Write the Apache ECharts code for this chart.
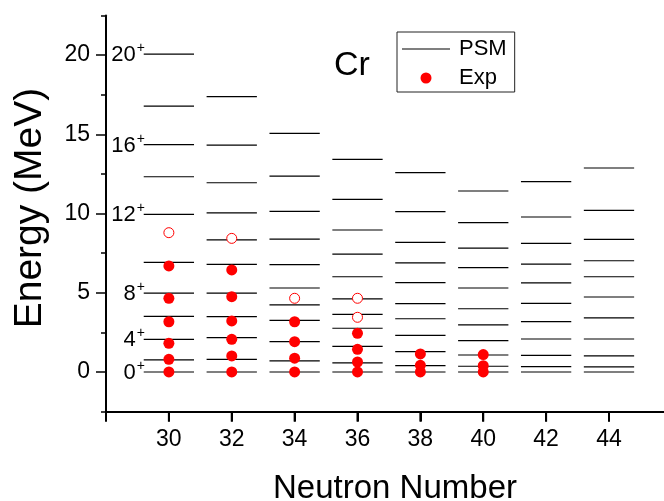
<!DOCTYPE html>
<html>
<head>
<meta charset="utf-8">
<script src="https://cdn.jsdelivr.net/npm/echarts@6/dist/echarts.min.js"></script>
<style>html,body{margin:0;padding:0;background:#fff}#c{width:664px;height:501px}</style>
</head>
<body>
<div id="c"></div>
<script>
// Neutron numbers of the columns
const neutrons = [30, 32, 34, 36, 38, 40, 42, 44];
// PSM level energies (MeV), yrast 0+ ... 20+
const psm30 = [0, 0.76, 2.06, 3.51, 4.97, 6.92, 9.95, 12.32, 14.34, 16.78, 20.06];
const psm32 = [0, 0.80, 2.17, 3.49, 4.97, 6.79, 8.33, 10.04, 11.94, 14.32, 17.37];
const psm34 = [0, 0.70, 1.92, 3.26, 4.23, 5.30, 6.77, 8.38, 10.13, 12.36, 15.06];
const psm36 = [0, 0.57, 1.62, 2.76, 3.64, 4.61, 6.01, 7.44, 8.96, 10.89, 13.42];
const psm38 = [0, 0.40, 1.28, 2.31, 3.36, 4.31, 5.64, 6.88, 8.18, 10.12, 12.58];
const psm40 = [0, 0.36, 1.07, 1.98, 2.97, 3.99, 5.30, 6.58, 7.82, 9.42, 11.42];
const psm42 = [0, 0.34, 1.05, 2.08, 3.18, 4.33, 5.62, 6.81, 8.12, 9.78, 12.01];
const psm44 = [0, 0.32, 1.01, 2.08, 3.41, 4.73, 6.01, 7.02, 8.37, 10.20, 12.87];
// Experimental levels (filled) and tentative (open)
const expN = [30, 32, 34, 36, 38, 40];
const exp30 = [0, 0.80, 1.81, 3.17, 4.65, 6.69];
const exp32 = [0, 1.01, 2.06, 3.22, 4.75, 6.44];
const exp34 = [0, 0.87, 1.91, 3.17];
const exp36 = [0, 0.63, 1.43, 2.44];
const exp38 = [0, 0.42, 1.14];
const exp40 = [0, 0.40, 1.10];
const open30 = [8.79];
const open32 = [8.43];
const open34 = [4.65];
const open36 = [3.45, 4.65];
// spin labels next to the N=30 column
const spinLabels = ['0', '4', '8', '12', '16', '20'];
const spinLevelIndex = [0, 2, 4, 6, 8, 10];
// axis ticks
const yMajorTicks = [0, 5, 10, 15, 20];
const yMinorTicks = [-2.5, 2.5, 7.5, 12.5, 17.5, 22.5];
const xTickLabels = [30, 32, 34, 36, 38, 40, 42, 44];
const xTicks = [28, 30, 32, 34, 36, 38, 40, 42, 44];

const Y_MIN = -2.5, Y_MAX = 22.5, X_MIN = 28, X_MAX = 45.75;

const psmCols = [psm30, psm32, psm34, psm36, psm38, psm40, psm42, psm44];
const expCols = [exp30, exp32, exp34, exp36, exp38, exp40];
const openCols = [open30, open32, open34, open36, [], []];

const psmData = [];
neutrons.forEach((n, i) => psmCols[i].forEach(e => psmData.push([n, e])));
const expData = [];
expN.forEach((n, i) => expCols[i].forEach(e => expData.push([n, e])));
const openData = [];
expN.forEach((n, i) => openCols[i].forEach(e => openData.push([n, e])));
const spinData = spinLabels.map((s, i) => [neutrons[0], psm30[spinLevelIndex[i]], s]);
const xTickData = xTicks.map(v => [v, Y_MIN]);

const FONT = 'Liberation Sans, Arial, sans-serif';
const HALF = 0.8;

const chart = echarts.init(document.getElementById('c'), null, { renderer: 'canvas' });
chart.setOption({
  animation: false,
  backgroundColor: '#fff',
  grid: { left: 106, right: 0, top: 15.4, bottom: 89.4 },
  xAxis: [{
    type: 'value', min: X_MIN, max: X_MAX, interval: 2, position: 'bottom',
    axisLine: { show: true, onZero: false, lineStyle: { color: '#000', width: 2 } },
    axisTick: { show: true, length: 10, customValues: xTicks, lineStyle: { color: '#000', width: 2 } },
    axisLabel: { customValues: xTickLabels, margin: 17, fontFamily: FONT, fontSize: 23, color: '#000' },
    splitLine: { show: false }
  }],
  yAxis: [{
    type: 'value', min: Y_MIN, max: Y_MAX, interval: 2.5,
    axisLine: { show: true, onZero: false, lineStyle: { color: '#000', width: 2 } },
    axisTick: { show: true, length: 10, customValues: yMajorTicks, lineStyle: { color: '#000', width: 1.5 } },
    axisLabel: { customValues: yMajorTicks, margin: 16, fontFamily: FONT, fontSize: 23, color: '#000' },
    splitLine: { show: false }
  }, {
    type: 'value', min: Y_MIN, max: Y_MAX, interval: 2.5, position: 'left',
    axisLine: { show: false, onZero: false },
    axisTick: { show: true, length: 5, customValues: yMinorTicks, lineStyle: { color: '#000', width: 1.5 } },
    axisLabel: { show: false },
    splitLine: { show: false }
  }],
  legend: {
    left: 397, top: 32, orient: 'vertical',
    itemWidth: 48, itemHeight: 11, itemGap: 7,
    padding: [6, 8, 3, 5],
    borderColor: '#222', borderWidth: 1,
    textStyle: { fontFamily: FONT, fontSize: 22, color: '#000', padding: [0, 0, 0, 4] },
    data: [
      { name: 'PSM', icon: 'path://M0,0H48V1H0Z' },
      { name: 'Exp', icon: 'circle' }
    ]
  },
  graphic: [{
    type: 'text', x: 352, y: 66,
    style: { text: 'Cr', fontFamily: FONT, fontSize: 34, fill: '#000', align: 'center', verticalAlign: 'middle' }
  }, {
    type: 'text', x: 395, y: 489,
    style: { text: 'Neutron Number', fontFamily: FONT, fontSize: 33, fill: '#000', align: 'center', verticalAlign: 'middle' }
  }, {
    type: 'text', x: 30, y: 208, rotation: Math.PI / 2,
    style: { text: 'Energy (MeV)', fontFamily: FONT, fontSize: 39, fill: '#000', align: 'center', verticalAlign: 'middle' }
  }],
  series: [
    {
      name: 'PSM', type: 'custom', data: psmData,
      itemStyle: { color: '#000' },
      renderItem: function (params, api) {
        const n = api.value(0), e = api.value(1);
        const p1 = api.coord([n - HALF, e]);
        const p2 = api.coord([n + HALF, e]);
        return { type: 'line', shape: { x1: p1[0], y1: p1[1], x2: p2[0], y2: p2[1] },
          style: { stroke: '#000', lineWidth: 1.2 } };
      }
    },
    {
      name: 'Exp', type: 'scatter', data: expData, symbol: 'circle', symbolSize: 11,
      itemStyle: { color: '#ff0000', opacity: 1 }, z: 5
    },
    {
      name: 'ExpOpen', type: 'scatter', data: openData, symbol: 'circle', symbolSize: 10,
      itemStyle: { color: '#fff', borderColor: '#ff0000', borderWidth: 1, opacity: 1 }, z: 5
    },
    {
      name: 'spin', type: 'custom', data: spinData, silent: true,
      renderItem: function (params, api) {
        const p = api.coord([api.value(0) - HALF, api.value(1)]);
        const txt = String(spinLabels[params.dataIndex]);
        return {
          type: 'group',
          children: [
            { type: 'text', x: p[0] - 8, y: p[1] + 1,
              style: { text: txt, fontFamily: FONT, fontSize: 22, fill: '#000', align: 'right', verticalAlign: 'middle' } },
            { type: 'text', x: p[0] - 7, y: p[1] - 6,
              style: { text: '+', fontFamily: FONT, fontSize: 14, fill: '#000', align: 'left', verticalAlign: 'middle' } }
          ]
        };
      }
    },
    {
      name: 'xticks', type: 'custom', data: xTickData, silent: true, clip: false, z: 10,
      renderItem: function (params, api) {
        const p = api.coord([api.value(0), api.value(1)]);
        return { type: 'line', z2: 10, shape: { x1: p[0], y1: p[1], x2: p[0], y2: p[1] + 10 },
          style: { stroke: '#000', lineWidth: 2 } };
      }
    }
  ]
});
</script>
</body>
</html>
